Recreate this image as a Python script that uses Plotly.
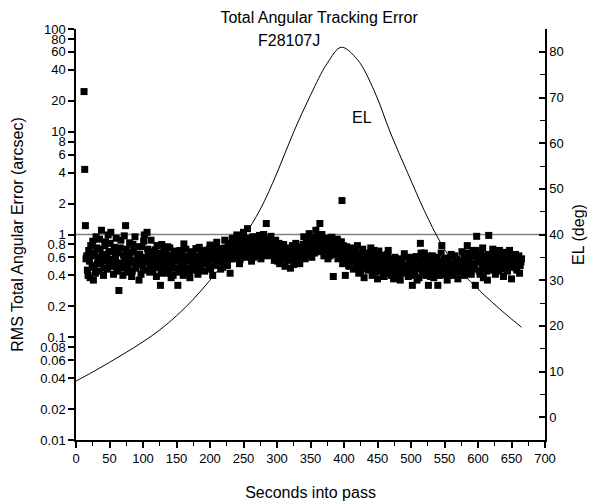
import plotly.graph_objects as go

# ---- data ----
t_even = list(range(14, 666, 2))
rms_err_even = [
    1.22, 0.62, 0.40, 0.55, 0.78, 0.48, 0.36, 0.66, 0.95, 0.52,
    0.44, 0.72, 1.10, 0.58, 0.47, 0.85, 0.62, 0.99, 0.50, 1.05,
    0.68, 0.41, 0.57, 0.92, 0.46, 0.285, 0.74, 0.53, 0.40, 0.97,
    1.22, 0.60, 0.49, 0.83, 0.56, 0.44, 0.69, 0.95, 0.51, 0.63,
    0.36, 0.58, 0.76, 0.47, 0.99, 0.54, 1.05, 0.66, 0.43, 0.88,
    0.59, 0.48, 0.71, 0.39, 0.62, 0.52, 0.32, 0.80, 0.45, 0.57,
    0.66, 0.42, 0.50, 0.74, 0.38, 0.61, 0.47, 0.55, 0.69, 0.32,
    0.43, 0.58, 0.64, 0.40, 0.52, 0.72, 0.47, 0.60, 0.38, 0.56,
    0.68, 0.45, 0.53, 0.62, 0.41, 0.75, 0.50, 0.58, 0.65, 0.44,
    0.70, 0.55, 0.48, 0.79, 0.60, 0.40, 0.66, 0.52, 0.84, 0.58,
    0.63, 0.46, 0.73, 0.56, 0.88, 0.61, 0.50, 0.77, 0.42, 0.67,
    0.92, 0.58, 0.70, 0.99, 0.63, 0.52, 0.83, 0.74, 1.05, 0.60,
    0.78, 1.14, 0.66, 0.88, 0.55, 0.95, 0.72, 0.62, 0.85, 0.70,
    0.98, 0.58, 0.80, 1.00, 0.66, 1.28, 0.74, 0.90, 0.63, 0.82,
    0.70, 0.56, 0.88, 0.64, 0.76, 0.52, 0.68, 0.60, 0.80, 0.49,
    0.66, 0.58, 0.74, 0.47, 0.62, 0.70, 0.54, 0.82, 0.60, 0.67,
    0.52, 0.76, 0.62, 0.95, 0.58, 0.84, 0.68, 1.02, 0.72, 0.60,
    0.88, 0.66, 1.10, 0.78, 0.96, 1.28, 0.70, 0.85, 0.62, 0.92,
    0.74, 0.58, 0.86, 0.68, 0.94, 0.39, 0.80, 0.64, 0.90, 0.72,
    0.60, 0.85, 0.52, 0.68, 0.40, 0.76, 0.58, 0.49, 0.70, 0.62,
    0.46, 0.64, 0.55, 0.78, 0.42, 0.60, 0.50, 0.72, 0.38, 0.57,
    0.66, 0.45, 0.53, 0.74, 0.40, 0.61, 0.48, 0.56, 0.37, 0.69,
    0.51, 0.44, 0.63, 0.39, 0.55, 0.47, 0.70, 0.42, 0.58, 0.49,
    0.37, 0.60, 0.45, 0.52, 0.41, 0.36, 0.56, 0.48, 0.65, 0.43,
    0.50, 0.39, 0.58, 0.46, 0.32, 0.54, 0.42, 0.61, 0.47, 0.38,
    0.82, 0.52, 0.44, 0.66, 0.40, 0.48, 0.32, 0.57, 0.45, 0.62,
    0.38, 0.50, 0.43, 0.32, 0.55, 0.46, 0.78, 0.41, 0.59, 0.49,
    0.36, 0.53, 0.44, 0.64, 0.40, 0.51, 0.47, 0.58, 0.37, 0.55,
    0.43, 0.68, 0.49, 0.40, 0.60, 0.78, 0.46, 0.55, 0.41, 0.70,
    0.50, 0.32, 0.96, 0.57, 0.44, 0.66, 0.48, 0.38, 0.62, 0.52,
    0.36, 0.98, 0.59, 0.45, 0.72, 0.50, 0.41, 0.63, 0.54, 0.70,
    0.47, 0.60, 0.39, 0.56, 0.67, 0.44, 0.52, 0.62, 0.37, 0.58,
    0.49, 0.64, 0.45, 0.55, 0.42, 0.54,
]
t_odd = list(range(15, 667, 2))
rms_err_odd = [
    0.58, 0.45, 0.70, 0.38, 0.62, 0.86, 0.50, 0.42, 0.74, 0.60,
    0.90, 0.52, 0.64, 0.40, 0.78, 0.55, 0.46, 0.68, 0.82, 0.57,
    0.49, 0.75, 0.60, 0.44, 0.66, 0.52, 0.88, 0.47, 0.63, 0.56,
    0.72, 0.43, 0.58, 0.66, 0.39, 0.80, 0.54, 0.47, 0.76, 0.59,
    0.64, 0.41, 0.53, 0.86, 0.60, 0.45, 0.72, 0.57, 0.50, 0.68,
    0.44, 0.62, 0.55, 0.78, 0.48, 0.66, 0.42, 0.58, 0.71, 0.51,
    0.57, 0.76, 0.45, 0.63, 0.53, 0.40, 0.67, 0.59, 0.47, 0.62,
    0.70, 0.49, 0.55, 0.81, 0.44, 0.61, 0.57, 0.42, 0.66, 0.52,
    0.48, 0.60, 0.73, 0.51, 0.58, 0.45, 0.63, 0.70, 0.54, 0.60,
    0.52, 0.64, 0.72, 0.46, 0.57, 0.69, 0.50, 0.76, 0.62, 0.55,
    0.70, 0.59, 0.48, 0.66, 0.74, 0.53, 0.82, 0.64, 0.58, 0.90,
    0.68, 0.80, 0.62, 0.74, 0.86, 0.57, 0.95, 0.70, 0.66, 0.88,
    0.92, 0.64, 0.76, 0.70, 0.84, 0.60, 0.78, 0.94, 0.67, 0.75,
    0.72, 0.86, 0.64, 0.90, 0.77, 0.62, 0.85, 0.70, 0.96, 0.66,
    0.78, 0.62, 0.70, 0.55, 0.82, 0.66, 0.58, 0.74, 0.63, 0.70,
    0.56, 0.72, 0.64, 0.60, 0.78, 0.51, 0.68, 0.62, 0.74, 0.58,
    0.66, 0.60, 0.80, 0.70, 0.64, 0.90, 0.74, 0.66, 0.86, 0.78,
    0.72, 0.94, 0.80, 0.68, 0.88, 0.76, 1.00, 0.74, 0.82, 0.66,
    0.84, 0.70, 0.62, 0.92, 0.76, 0.66, 0.72, 0.85, 0.58, 0.78,
    0.70, 0.62, 0.78, 0.56, 0.64, 0.72, 0.50, 0.66, 0.58, 0.74,
    0.55, 0.70, 0.48, 0.62, 0.58, 0.44, 0.66, 0.53, 0.61, 0.47,
    0.58, 0.50, 0.64, 0.46, 0.55, 0.70, 0.43, 0.60, 0.52, 0.45,
    0.60, 0.48, 0.42, 0.57, 0.50, 0.64, 0.45, 0.53, 0.40, 0.56,
    0.46, 0.52, 0.39, 0.58, 0.48, 0.55, 0.42, 0.50, 0.44, 0.60,
    0.44, 0.55, 0.48, 0.40, 0.60, 0.46, 0.52, 0.36, 0.56, 0.49,
    0.66, 0.45, 0.58, 0.50, 0.42, 0.62, 0.47, 0.39, 0.54, 0.48,
    0.52, 0.44, 0.60, 0.47, 0.40, 0.66, 0.50, 0.45, 0.56, 0.42,
    0.48, 0.58, 0.41, 0.52, 0.46, 0.62, 0.43, 0.50, 0.55, 0.47,
    0.52, 0.45, 0.62, 0.55, 0.48, 0.66, 0.58, 0.44, 0.52, 0.62,
    0.46, 0.70, 0.54, 0.62, 0.41, 0.56, 0.74, 0.48, 0.58, 0.44,
    0.64, 0.52, 0.46, 0.60, 0.55, 0.66, 0.48, 0.57, 0.44, 0.62,
    0.54, 0.66, 0.50, 0.46, 0.60, 0.56, 0.70, 0.48, 0.58, 0.52,
    0.60, 0.47, 0.56, 0.62, 0.50, 0.58,
]
outlier_t = [12, 13, 397]
outlier_err = [24.6, 4.3, 2.14]

el_t = [0, 25, 50, 75, 100, 125, 150, 175, 200, 225, 250, 275, 300, 325, 350,
        375, 396, 420, 445, 470, 495, 520, 545, 570, 595, 620, 645, 665]
el_deg = [7.9, 9.9, 12.0, 14.2, 16.5, 19.1, 22.2, 25.8, 30.0, 34.6, 39.5, 45.5,
          53.5, 62.5, 70.5, 77.5, 81.0, 78.3, 71.5, 62.0, 53.5, 45.2, 38.0,
          32.6, 28.8, 25.3, 22.1, 19.7]

ref_level = 1.0

left_tickvals = [0.01, 0.02, 0.04, 0.06, 0.08, 0.1, 0.2, 0.4, 0.6, 0.8,
                 1, 2, 4, 6, 8, 10, 20, 40, 60, 80, 100]
left_ticktext = ["0.01", "0.02", "0.04", "0.06", "0.08", "0.1", "0.2", "0.4",
                 "0.6", "0.8", "1", "2", "4", "6", "8", "10", "20", "40", "60",
                 "80", "100"]

FONT = "Arial, Liberation Sans, sans-serif"

fig = go.Figure()

fig.add_trace(go.Scatter(
    x=t_even + t_odd + outlier_t, y=rms_err_even + rms_err_odd + outlier_err,
    mode="markers",
    marker=dict(symbol="square", size=7, color="black", line=dict(width=0)),
    showlegend=False, yaxis="y"))

fig.add_trace(go.Scatter(
    x=el_t, y=el_deg, mode="lines", line=dict(color="black", width=1, shape="spline"),
    showlegend=False, yaxis="y2"))

fig.add_hline(y=ref_level, line=dict(color="#808080", width=1.5), layer="below")

# page body has an 8px margin: figure is sized to fit the 595x504 window
fig.update_layout(
    width=587, height=496,
    margin=dict(l=68, r=50, t=21, b=64),
    paper_bgcolor="white", plot_bgcolor="white",
    font=dict(family=FONT, size=13, color="black"),
    title=dict(text="Total Angular Tracking Error", x=0.530, xanchor="center",
               y=0.982, yanchor="middle", font=dict(size=16, family=FONT)),
    xaxis=dict(range=[0, 700], tickmode="linear", tick0=0, dtick=50,
               ticks="outside", ticklen=6, tickwidth=1.5, tickcolor="black",
               showline=True, linecolor="black", linewidth=1.5, showgrid=False,
               zeroline=False, automargin=False,
               minor=dict(dtick=25, ticks="outside", ticklen=4, tickwidth=1.2,
                          tickcolor="black", showgrid=False),
               title=dict(text="Seconds into pass", font=dict(size=16), standoff=21),
               tickfont=dict(size=13)),
    yaxis=dict(type="log", range=[-2, 2], tickmode="array",
               tickvals=left_tickvals, ticktext=left_ticktext,
               ticks="outside", ticklen=6, tickwidth=1.5, tickcolor="black",
               showline=True, linecolor="black", linewidth=1.5, showgrid=False,
               zeroline=False, automargin=False,
               title=dict(text="RMS Total Angular Error (arcsec)", font=dict(size=16),
                          standoff=13),
               tickfont=dict(size=13)),
    yaxis2=dict(overlaying="y", side="right", range=[-5, 85], tickmode="linear",
                tick0=0, dtick=10, ticks="inside", ticklen=6, tickwidth=1.5,
                tickcolor="black", showline=True, linecolor="black", linewidth=1.5,
                showgrid=False, zeroline=False, automargin=False,
                minor=dict(dtick=5, ticks="inside", ticklen=5, tickwidth=1.2,
                           tickcolor="black", showgrid=False),
                title=dict(text="EL (deg)", font=dict(size=16), standoff=10),
                tickfont=dict(size=13)),
)

fig.add_annotation(text="F28107J", x=0.454, y=0.973, xref="paper", yref="paper",
                   showarrow=False, font=dict(size=16, family=FONT),
                   xanchor="center", yanchor="middle")
fig.add_annotation(text="EL", x=427, y=65.7, xref="x", yref="y2",
                   showarrow=False, font=dict(size=16, family=FONT),
                   xanchor="center", yanchor="middle")

fig.write_html("out.html")
